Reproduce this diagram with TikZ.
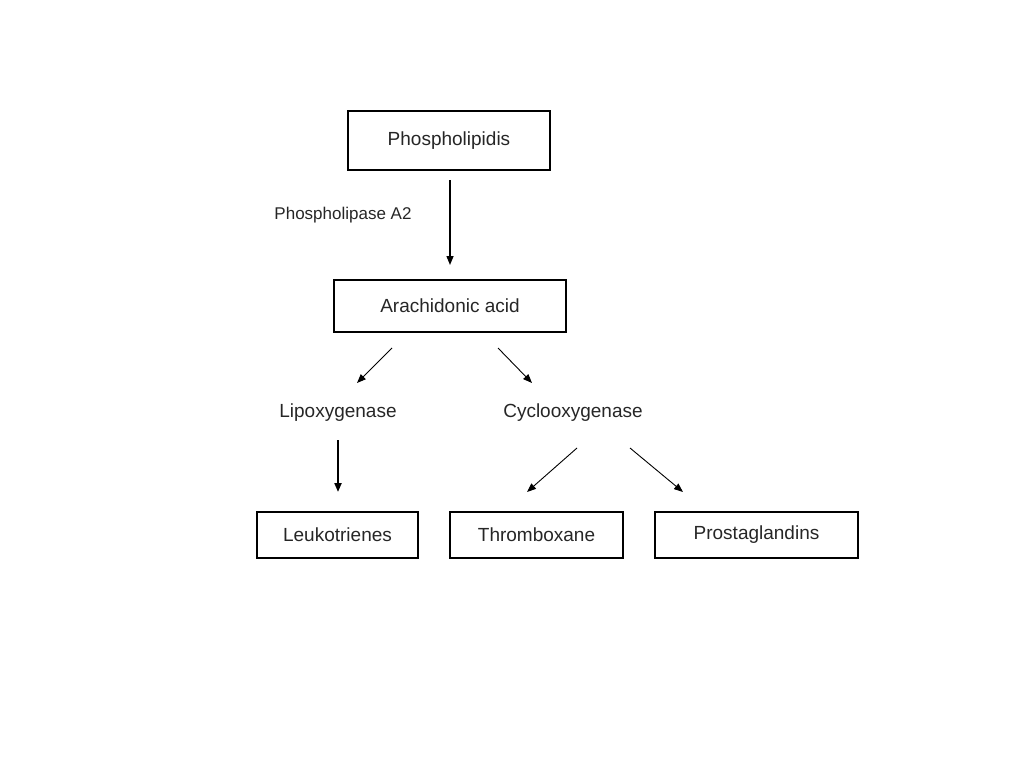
\documentclass[tikz,border=0pt]{standalone}
\usepackage{fontspec}
\setmainfont{Liberation Sans}
\usetikzlibrary{arrows.meta}
\begin{document}
\begin{tikzpicture}[x=1pt,y=-1pt,
  box/.style={draw,line width=1.2pt,minimum height=#1,inner sep=0pt},
  lbl/.style={inner sep=0pt,font=\fontsize{19}{22}\selectfont},
  arr/.style={-{Triangle[length=9pt,width=7pt]},line width=0.9pt},
  every node/.append style={font=\fontsize{19}{22}\selectfont,text=black!85}]
\useasboundingbox (0,0) rectangle (1024,768);
\node[box=59pt,minimum width=202pt] (pl) at (449,140.5) {Phospholipidis};
\node[box=52pt,minimum width=232pt] (aa) at (450,306) {Arachidonic acid};
\node[lbl] (lo) at (338,413) {Lipoxygenase};
\node[lbl] (co) at (573,413) {Cyclooxygenase};
\node[box=46pt,minimum width=161pt] (lk) at (337.5,535) {Leukotrienes};
\node[box=46pt,minimum width=173pt] (tx) at (536.5,535) {Thromboxane};
\node[box=46pt,minimum width=203pt] (pg) at (756.5,535) {Prostaglandins};
\node[lbl,font=\fontsize{17}{20}\selectfont] (pa) at (343,215) {Phospholipase A2};
\coordinate (a1) at (450,180); \coordinate (a2) at (450,265);
\coordinate (b1) at (392,348); \coordinate (b2) at (357,383);
\coordinate (c1) at (498,348); \coordinate (c2) at (532,383);
\coordinate (d1) at (338,440); \coordinate (d2) at (338,492);
\coordinate (e1) at (577,448); \coordinate (e2) at (527,492);
\coordinate (f1) at (630,448); \coordinate (f2) at (683,492);
\draw[arr,line width=1.4pt] (a1) -- (a2);
\draw[arr] (b1) -- (b2);
\draw[arr] (c1) -- (c2);
\draw[arr,line width=2pt] (d1) -- (d2);
\draw[arr] (e1) -- (e2);
\draw[arr] (f1) -- (f2);
\end{tikzpicture}
\end{document}
